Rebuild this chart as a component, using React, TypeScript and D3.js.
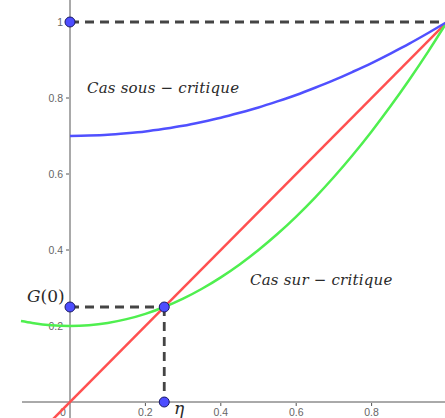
import React from 'react';
import * as d3 from 'd3';

// sample abscissas and curve values
const sGreen = [-0.13, -0.1, -0.05, 0, 0.05, 0.1, 0.15, 0.2, 0.25, 0.3, 0.35, 0.4, 0.45, 0.5, 0.55, 0.6, 0.65, 0.7, 0.75, 0.8, 0.85, 0.9, 0.95, 1];
const greenVals = [0.213, 0.208, 0.202, 0.2, 0.202, 0.208, 0.218, 0.232, 0.25, 0.272, 0.298, 0.328, 0.362, 0.4, 0.442, 0.488, 0.538, 0.592, 0.65, 0.712, 0.778, 0.848, 0.922, 1];
const sBlue = [0, 0.05, 0.1, 0.15, 0.2, 0.25, 0.3, 0.35, 0.4, 0.45, 0.5, 0.55, 0.6, 0.65, 0.7, 0.75, 0.8, 0.85, 0.9, 0.95, 1];
const blueVals = [0.7, 0.701, 0.703, 0.707, 0.712, 0.719, 0.727, 0.737, 0.748, 0.761, 0.775, 0.791, 0.808, 0.827, 0.847, 0.869, 0.892, 0.917, 0.943, 0.971, 1];
const sRed = [-0.06, 1];
const redVals = [-0.06, 1];
const xTicks = [0.2, 0.4, 0.6, 0.8];
const yTicks = [0.2, 0.4, 0.6, 0.8, 1];
const eta = 0.25;
const g0 = 0.25;

const W = 445;
const H = 418;

export default function App() {
  const x = d3.scaleLinear().domain([0, 1]).range([70, 447]);
  const y = d3.scaleLinear().domain([0, 1]).range([402, 22]);

  const line = d3.line<[number, number]>()
    .x(d => x(d[0]))
    .y(d => y(d[1]))
    .curve(d3.curveMonotoneX);

  const green = line(sGreen.map((s, i) => [s, greenVals[i]]));
  const blue = line(sBlue.map((s, i) => [s, blueVals[i]]));
  const red = line(sRed.map((s, i) => [s, redVals[i]]));

  const dash = { stroke: '#444', strokeWidth: 2.8, strokeDasharray: '9,6', fill: 'none' };
  const pts: [number, number][] = [[0, 1], [0, g0], [eta, g0], [eta, 0]];
  const tickFont = { fontFamily: 'Liberation Sans, Arial, sans-serif', fontSize: 10.5, fill: '#666' };
  const mathFont = { fontFamily: "'DejaVu Serif', serif", fontStyle: 'italic', fontSize: 15, fill: '#2a2a2a' };

  return (
    <svg width={W} height={H} style={{ position: 'absolute', left: 0, top: 0, background: '#fff' }}>
      {/* axes */}
      <line x1={22} x2={W} y1={y(0)} y2={y(0)} stroke="#555" strokeWidth={1} />
      <line x1={x(0)} x2={x(0)} y1={0} y2={H} stroke="#555" strokeWidth={1} />
      {xTicks.map(t => (
        <g key={'x' + t}>
          <line x1={x(t)} x2={x(t)} y1={y(0) + 1} y2={y(0) + 4} stroke="#555" />
          <text x={x(t)} y={y(0) + 14} textAnchor="middle" {...tickFont}>{t}</text>
        </g>
      ))}
      <text x={x(0) - 10} y={y(0) + 14} {...tickFont}>0</text>
      {yTicks.map(t => (
        <g key={'y' + t}>
          <line x1={x(0) - 4} x2={x(0) - 1} y1={y(t)} y2={y(t)} stroke="#555" />
          <text x={x(0) - 7} y={y(t) + 3.5} textAnchor="end" {...tickFont}>{t}</text>
        </g>
      ))}

      {/* dashed guides */}
      <line x1={x(0)} x2={W} y1={y(1)} y2={y(1)} {...dash} />
      <line x1={x(0)} x2={x(eta)} y1={y(g0)} y2={y(g0)} {...dash} />
      <line x1={x(eta)} x2={x(eta)} y1={y(g0)} y2={y(0)} {...dash} />

      {/* curves */}
      <path d={red || ''} stroke="#ff5050" strokeWidth={2.5} fill="none" />
      <path d={green || ''} stroke="#4fef4f" strokeWidth={2.5} fill="none" />
      <path d={blue || ''} stroke="#5050ff" strokeWidth={2.5} fill="none" />

      {pts.map((p, i) => (
        <circle key={i} cx={x(p[0])} cy={y(p[1])} r={5} fill="#4d4dff" stroke="#1a1a66" strokeWidth={1} />
      ))}

      {/* labels */}
      <text x={87} y={93} {...mathFont} letterSpacing={0.2}>Cas sous − critique</text>
      <text x={250} y={285} {...mathFont} letterSpacing={0.2}>Cas sur − critique</text>
      <text x={27} y={302} {...mathFont} fontSize={17}>
        G<tspan fontStyle="normal">(0)</tspan>
      </text>
      <text x={174} y={414} {...mathFont} fontSize={17}>η</text>
    </svg>
  );
}
